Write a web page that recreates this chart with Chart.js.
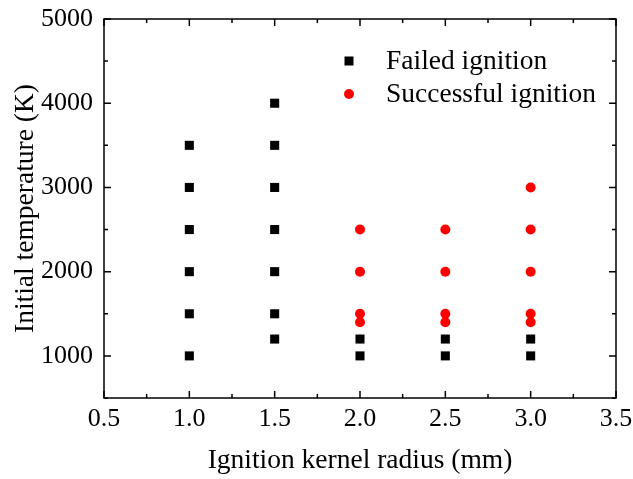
<!DOCTYPE html>
<html><head><meta charset="utf-8">
<script src="https://cdn.jsdelivr.net/npm/chart.js@4.4.0/dist/chart.umd.min.js"></script>
<style>html,body{margin:0;padding:0;background:#fff}#wrap{width:633px;height:479px}</style>
</head><body><div id="wrap"><canvas id="c" width="633" height="479"></canvas></div>
<script>
// ---- data ----
const seriesNames = ['Failed ignition', 'Successful ignition'];
const failedRadius = [1.0,1.0,1.0,1.0,1.0,1.0, 1.5,1.5,1.5,1.5,1.5,1.5,1.5, 2.0,2.0, 2.5,2.5, 3.0,3.0];
const failedTemp   = [1000,1500,2000,2500,3000,3500, 1200,1500,2000,2500,3000,3500,4000, 1000,1200, 1000,1200, 1000,1200];
const successRadius = [2.0,2.0,2.0,2.0, 2.5,2.5,2.5,2.5, 3.0,3.0,3.0,3.0,3.0];
const successTemp   = [1400,1500,2000,2500, 1400,1500,2000,2500, 1400,1500,2000,2500,3000];
const xTickLabels = [0.5,1.0,1.5,2.0,2.5,3.0,3.5];
const yTickLabels = [1000,2000,3000,4000,5000];
const xTitle = 'Ignition kernel radius (mm)';
const yTitle = 'Initial temperature (K)';

const FONT = "'Liberation Serif','Times New Roman',serif";

function pts(xs, ys){ return xs.map((x,i)=>({x:x, y:ys[i]})); }

const framePlugin = {
  id: 'frame',
  afterDraw(chart){
    const {ctx, chartArea:a, scales:{x, y}} = chart;
    ctx.save();
    ctx.strokeStyle = '#000';
    ctx.lineWidth = 1.5;
    ctx.strokeRect(a.left, a.top, a.right - a.left, a.bottom - a.top);
    ctx.beginPath();
    for (let v = 0.5; v <= 3.5001; v += 0.25) {
      const px = x.getPixelForValue(v);
      const major = Math.abs(v*2 - Math.round(v*2)) < 1e-6;
      const L = major ? 7 : 4;
      ctx.moveTo(px, a.bottom); ctx.lineTo(px, a.bottom - L);
      ctx.moveTo(px, a.top); ctx.lineTo(px, a.top + L);
    }
    for (let v = 500; v <= 5000; v += 500) {
      const py = y.getPixelForValue(v);
      const major = v % 1000 === 0;
      const L = major ? 7 : 4;
      ctx.moveTo(a.left, py); ctx.lineTo(a.left + L, py);
      ctx.moveTo(a.right, py); ctx.lineTo(a.right - L, py);
    }
    ctx.stroke();

    // legend
    const ds = chart.data.datasets;
    const lx = 349, ly = [61, 94], tx = 386;
    ctx.font = '27.5px ' + FONT;
    ctx.textBaseline = 'middle';
    ctx.textAlign = 'left';
    ds.forEach((d, i) => {
      ctx.fillStyle = d.backgroundColor;
      if (d.pointStyle === 'rect') {
        ctx.fillRect(lx - 4.5, ly[i] - 4.5, 9, 9);
      } else {
        ctx.beginPath(); ctx.arc(lx, ly[i], 5, 0, Math.PI*2); ctx.fill();
      }
      ctx.fillStyle = '#000';
      ctx.fillText(d.label, tx, ly[i] + 1);
    });
    ctx.restore();
  }
};

new Chart(document.getElementById('c'), {
  type: 'scatter',
  data: {
    datasets: [
      { label: seriesNames[0], data: pts(failedRadius, failedTemp), pointStyle: 'rect',
        backgroundColor: '#000000', borderColor: '#000000', borderWidth: 0, pointRadius: 6.4, pointHoverRadius: 6.4 },
      { label: seriesNames[1], data: pts(successRadius, successTemp), pointStyle: 'circle',
        backgroundColor: '#ff0000', borderColor: '#ff0000', borderWidth: 0, pointRadius: 5, pointHoverRadius: 5 }
    ]
  },
  options: {
    responsive: false, animation: false, devicePixelRatio: 1,
    layout: { padding: { top: 19, right: 17, left: 0, bottom: 0 } },
    plugins: { legend: { display: false }, tooltip: { enabled: false } },
    scales: {
      x: {
        type: 'linear', min: 0.5, max: 3.5,
        afterBuildTicks(s){ s.ticks = xTickLabels.map(v => ({value: v})); },
        afterFit(s){ s.height = 81; s.paddingLeft = 0; s.paddingRight = 0; },
        grid: { display: false, drawTicks: false }, border: { display: false },
        ticks: { padding: 6, color: '#000', font: { family: FONT, size: 26 }, callback: v => Number(v).toFixed(1), maxRotation: 0, autoSkip: false },
        title: { display: true, text: xTitle, color: '#000', font: { family: FONT, size: 27.5 }, padding: 2 }
      },
      y: {
        type: 'linear', min: 500, max: 5000,
        afterBuildTicks(s){ s.ticks = yTickLabels.map(v => ({value: v})); },
        afterFit(s){ s.width = 104; s.paddingTop = 0; s.paddingBottom = 0; },
        grid: { display: false, drawTicks: false }, border: { display: false },
        ticks: { padding: 11, color: '#000', font: { family: FONT, size: 26 }, autoSkip: false, callback: v => String(v) },
        title: { display: true, text: yTitle, color: '#000', font: { family: FONT, size: 27.5 }, padding: 9 }
      }
    }
  },
  plugins: [framePlugin]
});
</script></body></html>
